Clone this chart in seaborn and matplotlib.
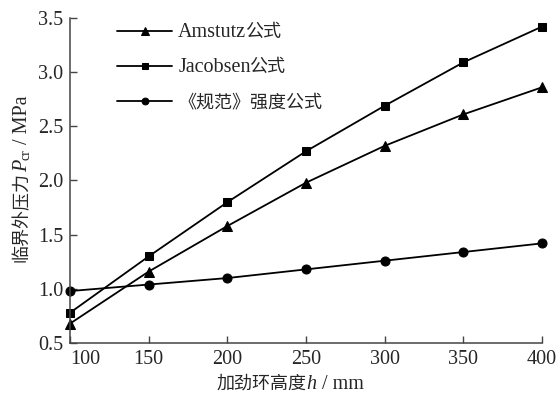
import numpy as np
import pandas as pd
import matplotlib
matplotlib.use('Agg')
import matplotlib.pyplot as plt
from matplotlib.transforms import IdentityTransform
import seaborn as sns

# 数据
h_mm = [100, 150, 200, 250, 300, 350, 400]
amstutz = [0.68, 1.16, 1.58, 1.98, 2.32, 2.61, 2.86]
jacobsen = [0.78, 1.30, 1.80, 2.27, 2.69, 3.09, 3.42]
guifan = [0.98, 1.04, 1.10, 1.18, 1.26, 1.34, 1.42]
series_names = ['Amstutz公式', 'Jacobsen公式', '《规范》强度公式']
series_markers = ['^', 's', 'o']
x_ticks = [100, 150, 200, 250, 300, 350, 400]
y_ticks = [0.5, 1.0, 1.5, 2.0, 2.5, 3.0, 3.5]

sns.set_style('ticks')
FONTS = ['Liberation Serif', 'Noto Sans CJK SC']
plt.rcParams['font.family'] = FONTS
plt.rcParams['xtick.direction'] = 'in'
plt.rcParams['ytick.direction'] = 'in'

FS_CN = 13    # 中文字号
FS_EN = 14.5  # 西文字号（Times 风格，略大）


def draw_label(fig, pieces, x, y, rotation=0, center=True, kern=0.0):
    # 分段绘制文字（中文 + 斜体字母 + 下标），像素坐标，基线对齐
    renderer = fig.canvas.get_renderer()
    items = []
    for s, kw, shift in pieces:
        t = fig.text(0, 0, s, transform=IdentityTransform(), rotation=rotation,
                     rotation_mode='anchor', ha='left', va='baseline', **kw)
        bb = t.get_window_extent(renderer)
        w = (bb.width if rotation == 0 else bb.height) - kern
        items.append((t, w, shift))
    pos = -sum(w for _, w, _ in items) / 2 if center else 0
    for t, w, shift in items:
        if rotation == 0:
            t.set_position((x + pos, y - shift))
        else:
            t.set_position((x + shift, y + pos))
        pos += w


df = pd.DataFrame({'h': h_mm * 3,
                   'P': amstutz + jacobsen + guifan,
                   'name': np.repeat(series_names, len(h_mm))})

fig = plt.figure(figsize=(5.56, 3.98), dpi=100)
ax = fig.add_axes([0.126, 0.138, 0.849, 0.817])

sizes = {'^': 7.5, 's': 6, 'o': 6.5}
for name, mk in zip(series_names, series_markers):
    sub = df[df['name'] == name]
    sns.lineplot(data=sub, x='h', y='P', ax=ax, color='black', linewidth=1.3,
                 marker=mk, markersize=sizes[mk], markeredgecolor='black',
                 label=name, clip_on=False)

ax.set_xlim(100, 400)
ax.set_ylim(0.5, 3.5)
ax.set_xticks(x_ticks)
ax.set_yticks(y_ticks)
ax.set_yticklabels([f'{v:.1f}' for v in y_ticks])
ax.tick_params(labelsize=FS_EN, length=5, width=1, color='#444444', pad=5)
ax.get_xticklabels()[0].set_horizontalalignment('left')
for s in ['top', 'right']:
    ax.spines[s].set_visible(False)
for s in ['left', 'bottom']:
    ax.spines[s].set_color('#444444')
    ax.spines[s].set_linewidth(1.1)
ax.set_xlabel('')
ax.set_ylabel('')

leg = ax.legend(loc='upper left', bbox_to_anchor=(0.1, 0.98), frameon=False,
                fontsize=FS_CN, handlelength=3.05, handletextpad=0.33,
                labelspacing=1.0, borderpad=0, borderaxespad=0, markerscale=0.75)

# 图例文字：西文与中文分别设置字号
legend_pieces = [[('Amstutz', dict(fontsize=FS_EN), 0), ('公式', dict(fontsize=FS_CN), 0)],
                 [('Jacobsen', dict(fontsize=FS_EN), 0), ('公式', dict(fontsize=FS_CN), 0)],
                 [('《规范》强度公式', dict(fontsize=FS_CN), 0)]]
fig.canvas.draw()
renderer = fig.canvas.get_renderer()
for txt, line, pieces in zip(leg.get_texts(), leg.get_lines(), legend_pieces):
    x0 = txt.get_window_extent(renderer).x0
    lb = line.get_window_extent(renderer)
    yc = (lb.y0 + lb.y1) / 2
    txt.set_visible(False)
    draw_label(fig, pieces, x0, yc - 6.3, center=False, kern=1.5)

draw_label(fig, [('加劲环高度', dict(fontsize=FS_CN), 0),
                 ('h', dict(fontsize=FS_EN, fontstyle='italic'), 0),
                 (' / mm', dict(fontsize=FS_EN), 0)], 290, 9)
draw_label(fig, [('临界外压力', dict(fontsize=FS_CN), 0),
                 ('P', dict(fontsize=FS_EN, fontstyle='italic'), 0),
                 ('cr', dict(fontsize=10), 3),
                 (' / MPa', dict(fontsize=FS_EN), 0)], 27, 219, rotation=90)

fig.savefig('out.png', dpi=100)
